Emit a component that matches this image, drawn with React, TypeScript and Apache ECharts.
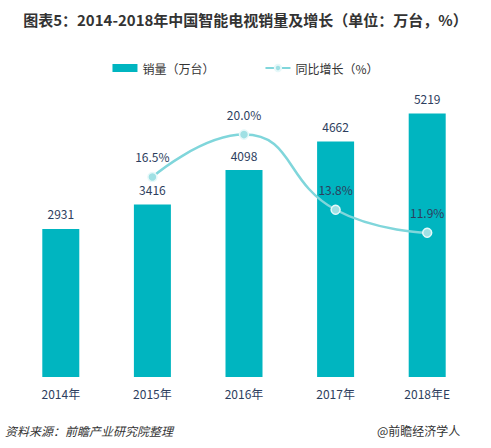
import React, { useEffect, useRef } from "react";
import * as echarts from "echarts";

const categories = ["2014年", "2015年", "2016年", "2017年", "2018年E"];
const salesValues = [2931, 3416, 4098, 4662, 5219];
const growthValues: (number | null)[] = [null, 16.5, 20.0, 13.8, 11.9];

const titleText = "图表5：2014-2018年中国智能电视销量及增长（单位：万台，%）";
const sourceText = "资料来源：前瞻产业研究院整理";
const brandText = "@前瞻经济学人";

export default function App() {
  const ref = useRef<HTMLDivElement>(null);
  useEffect(() => {
    if (!ref.current) return;
    const chart = echarts.init(ref.current, null, { renderer: "svg" });
    const font = "'Noto Sans CJK SC', 'Noto Sans', sans-serif";
    chart.setOption({
      animation: false,
      backgroundColor: "#ffffff",
      textStyle: { fontFamily: font },
      title: {
        text: titleText,
        left: "center",
        top: 7,
        textStyle: { fontSize: 15, fontWeight: "bold", color: "#333333", fontFamily: font },
      },
      legend: {
        top: 57,
        left: "center",
        itemGap: 50,
        itemWidth: 25,
        itemHeight: 8,
        textStyle: { fontSize: 12, color: "#333333", fontFamily: font },
        data: [
          { name: "销量（万台）", icon: "rect" },
          { name: "同比增长（%）" },
        ],
      },
      graphic: [
        {
          type: "text",
          left: 5,
          top: 424,
          style: {
            text: sourceText,
            fontSize: 12,
            fontStyle: "italic",
            fill: "#333333",
            fontFamily: font,
          },
        },
        {
          type: "text",
          left: 377,
          top: 424,
          style: { text: brandText, fontSize: 12, fill: "#333333", fontFamily: font },
        },
      ],
      grid: { left: 15, right: 18, top: 74, bottom: 71 },
      xAxis: {
        type: "category",
        data: categories,
        axisLine: { show: false },
        axisTick: { show: false },
        axisLabel: { fontSize: 12, color: "#2d3e5e", margin: 10, fontFamily: font },
      },
      yAxis: [
        { type: "value", min: 0, max: 6000, show: false, splitLine: { show: false } },
        { type: "value", min: 0, max: 25, show: false, splitLine: { show: false } },
      ],
      series: [
        {
          name: "销量（万台）",
          type: "bar",
          data: salesValues,
          barWidth: 37,
          itemStyle: { color: "#00b5c0" },
          label: {
            show: true,
            position: "top",
            distance: 9,
            fontSize: 12,
            color: "#2d3e5e",
            fontFamily: font,
          },
        },
        {
          name: "同比增长（%）",
          type: "line",
          yAxisIndex: 1,
          data: growthValues,
          smooth: true,
          symbol: "circle",
          symbolSize: 9,
          lineStyle: { color: "#80d6db", width: 2.5 },
          itemStyle: { color: "#9fe0e4", borderColor: "#e6f8f9", borderWidth: 1.5 },
          label: {
            show: true,
            position: "top",
            distance: 9,
            fontSize: 12,
            color: "#2d3e5e",
            fontFamily: font,
            formatter: (p: any) => Number(p.value).toFixed(1) + "%",
          },
          z: 5,
        },
      ],
    });
    return () => chart.dispose();
  }, []);
  return <div ref={ref} style={{ width: 491, height: 448, position: "absolute", left: 0, top: 0 }} />;
}
